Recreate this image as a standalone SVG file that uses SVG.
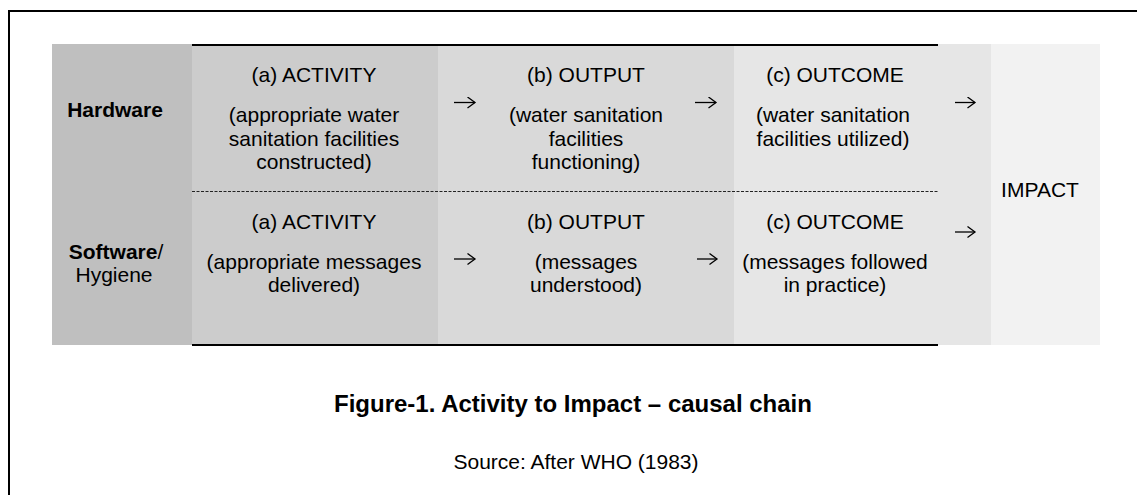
<svg xmlns="http://www.w3.org/2000/svg" width="1137" height="495" viewBox="0 0 1137 495">
<style>
text{font-family:"Liberation Sans",Arial,sans-serif;font-size:21px;fill:#000;text-anchor:middle}
.b{font-weight:bold}
.cap{font-size:24px;font-weight:bold}
.rule{stroke:#000;stroke-width:2;fill:none}
.dash{stroke:#222;stroke-width:1;stroke-dasharray:3 1.5;fill:none}
.arr{stroke:#000;stroke-width:1.3;fill:none;marker-end:url(#head)}
</style>
<defs>
<marker id="head" markerUnits="userSpaceOnUse" markerWidth="12" markerHeight="14" refX="8" refY="6" orient="auto">
<path d="M0.5 0.5 L8 6 L0.5 11.5" fill="none" stroke="#000" stroke-width="1.3"/>
</marker>
</defs>
<rect x="9" y="11" width="1140" height="500" fill="#fff" stroke="#000" stroke-width="2"/>
<g id="bands">
<rect id="row-labels" x="52" y="44" width="140" height="301" fill="#bfbfbf"/>
<rect id="col-activity" x="192" y="44" width="246" height="301" fill="#cccccc"/>
<rect id="col-output" x="438" y="44" width="296" height="301" fill="#d9d9d9"/>
<rect id="col-outcome" x="734" y="44" width="257" height="301" fill="#e6e6e6"/>
<rect id="col-impact" x="991" y="44" width="109" height="301" fill="#f2f2f2"/>
<line class="rule" x1="192" y1="45" x2="938" y2="45"/>
<line class="rule" x1="192" y1="345" x2="938" y2="345"/>
<line class="dash" x1="192" y1="191.5" x2="938" y2="191.5"/>
</g>
<g id="hardware-label"><text class="b" x="115" y="117">Hardware</text></g>
<g id="software-label"><text x="116" y="259"><tspan class="b">Software</tspan>/</text><text x="114" y="282">Hygiene</text></g>
<g id="hw-activity">
<text x="314" y="81.5">(a) ACTIVITY</text>
<text x="314" y="122">(appropriate water</text>
<text x="314" y="145.5">sanitation facilities</text>
<text x="314" y="169">constructed)</text>
</g>
<g id="hw-output">
<text x="586" y="81.5">(b) OUTPUT</text>
<text x="586" y="122">(water sanitation</text>
<text x="586" y="145.5">facilities</text>
<text x="586" y="169">functioning)</text>
</g>
<g id="hw-outcome">
<text x="835" y="81.5">(c) OUTCOME</text>
<text x="833" y="122">(water sanitation</text>
<text x="833" y="145.5">facilities utilized)</text>
</g>
<g id="sw-activity">
<text x="314" y="229">(a) ACTIVITY</text>
<text x="314" y="269">(appropriate messages</text>
<text x="314" y="292">delivered)</text>
</g>
<g id="sw-output">
<text x="586" y="229">(b) OUTPUT</text>
<text x="586" y="269">(messages</text>
<text x="586" y="292">understood)</text>
</g>
<g id="sw-outcome">
<text x="835" y="229">(c) OUTCOME</text>
<text x="835" y="269">(messages followed</text>
<text x="835" y="292">in practice)</text>
</g>
<g id="impact"><text x="1040" y="197">IMPACT</text></g>
<g id="connectors">
<line class="arr" x1="454" y1="102.5" x2="475" y2="102.5"/>
<line class="arr" x1="695" y1="102.5" x2="716" y2="102.5"/>
<line class="arr" x1="955" y1="102.5" x2="975" y2="102.5"/>
<line class="arr" x1="454" y1="259" x2="475" y2="259"/>
<line class="arr" x1="697" y1="259" x2="717" y2="259"/>
<line class="arr" x1="955" y1="232" x2="975" y2="232"/>
</g>
<g id="caption">
<text class="cap" x="573" y="412">Figure-1. Activity to Impact – causal chain</text>
<text x="576" y="469">Source: After WHO (1983)</text>
</g>
</svg>
